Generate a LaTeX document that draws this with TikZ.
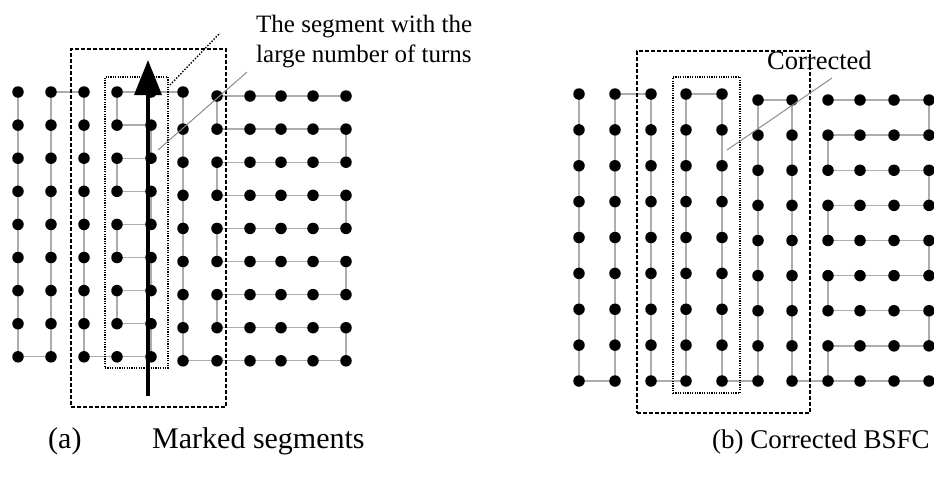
\documentclass[tikz,border=0pt]{standalone}
\usepackage{fontspec}
\setmainfont{Liberation Serif}
\usetikzlibrary{arrows.meta,backgrounds}

\tikzset{
  pt/.style={circle,fill=black,inner sep=0pt,minimum size=11.5pt},
  link/.style={draw=black!32,line width=1.3pt},
  dashbox/.style={draw=black,line width=1.5pt,dash pattern=on 4pt off 2pt},
  dotbox/.style={draw=black,line width=1.5pt,dash pattern=on 1.2pt off 1.2pt},
  leader/.style={draw=black!45,line width=1pt},
  caption/.style={anchor=base west,inner sep=0pt,font=\fontsize{30}{36}\selectfont},
  note/.style={anchor=base west,inner sep=0pt,font=\fontsize{25}{30}\selectfont},
}

\begin{document}
\begin{tikzpicture}[x=1pt,y=-1pt]
\useasboundingbox (0,0) rectangle (934,491);

% ---------- (a) marked segments ----------
\foreach \c/\x in {0/18,1/51,2/84,3/117,4/151}
  \foreach \r in {0,...,8}
    \node[pt] (A\c-\r) at (\x,{92+33.1*\r}) {};
\node[pt] (A5-0) at (183,92) {};
\foreach \r in {1,...,8}
  \node[pt] (A5-\r) at (183,{96+33.1*\r}) {};
\foreach \c/\x in {6/217,7/250,8/281,9/313,10/346}
  \foreach \r in {0,...,8}
    \node[pt] (A\c-\r) at (\x,{96+33.1*\r}) {};

\begin{scope}[on background layer]
\draw[link] (A0-0.center) -- (A0-8.center) -- (A1-8.center) -- (A1-0.center)
  -- (A2-0.center) -- (A2-8.center) -- (A3-8.center) -- (A4-8.center)
  -- (A4-7.center) -- (A3-7.center) -- (A3-6.center) -- (A4-6.center)
  -- (A4-5.center) -- (A3-5.center) -- (A3-4.center) -- (A4-4.center)
  -- (A4-3.center) -- (A3-3.center) -- (A3-2.center) -- (A4-2.center)
  -- (A4-1.center) -- (A3-1.center) -- (A3-0.center) -- (A4-0.center)
  -- (A5-0.center) -- (A5-8.center) -- (A6-8.center) -- (A10-8.center)
  -- (A10-7.center) -- (A6-7.center) -- (A6-6.center) -- (A10-6.center)
  -- (A10-5.center) -- (A6-5.center) -- (A6-4.center) -- (A10-4.center)
  -- (A10-3.center) -- (A6-3.center) -- (A6-2.center) -- (A10-2.center)
  -- (A10-1.center) -- (A6-1.center) -- (A6-0.center) -- (A10-0.center);
\end{scope}

\node[dashbox,minimum width=155pt,minimum height=358pt,inner sep=0pt] (Aouter) at (148.5,228) {};
\node[dotbox,minimum width=63pt,minimum height=291pt,inner sep=0pt] (Ainner) at (136.5,222.5) {};

\coordinate (arrowtail) at (148,396);
\coordinate (arrowtip) at (148,60);
\draw[line width=3.5pt,-{Triangle[length=35pt,width=27pt]}] (arrowtail) -- (arrowtip);

\coordinate (calloutfoot) at (170,85);
\coordinate (callouthead) at (220,33);
\draw[black,line width=1.4pt,dash pattern=on 1.4pt off 1.6pt] (calloutfoot) -- (callouthead);
\coordinate (Aleadfoot) at (158,150);
\coordinate (Aleadhead) at (247,72);
\draw[leader] (Aleadfoot) -- (Aleadhead);

\node[note] (segline1) at (256,32) {The segment with the};
\node[note] (segline2) at (256,62) {large number of turns};

\node[caption] (capa) at (48,448) {(a)};
\node[caption] (capatext) at (152,448) {Marked segments};

% ---------- (b) corrected BSFC ----------
\foreach \c/\x in {0/579,1/615,2/651,3/686,4/722}
  \foreach \r in {0,...,8}
    \node[pt] (B\c-\r) at (\x,{94+35.875*\r}) {};
\foreach \c/\x in {5/758,6/792,7/828,8/860,9/894,10/929}
  \foreach \r in {0,...,8}
    \node[pt] (B\c-\r) at (\x,{100+35.125*\r}) {};

\begin{scope}[on background layer]
\draw[link] (B0-0.center) -- (B0-8.center) -- (B1-8.center) -- (B1-0.center)
  -- (B2-0.center) -- (B2-8.center) -- (B3-8.center) -- (B3-0.center)
  -- (B4-0.center) -- (B4-8.center) -- (B5-8.center) -- (B5-0.center)
  -- (B6-0.center) -- (B6-8.center) -- (B7-8.center) -- (B7-7.center)
  -- (B10-7.center) -- (B10-6.center) -- (B7-6.center) -- (B7-5.center)
  -- (B10-5.center) -- (B10-4.center) -- (B7-4.center) -- (B7-3.center)
  -- (B10-3.center) -- (B10-2.center) -- (B7-2.center) -- (B7-1.center)
  -- (B10-1.center) -- (B10-0.center) -- (B7-0.center);
\draw[link] (B7-8.center) -- (B10-8.center);
\end{scope}

\node[dashbox,minimum width=173pt,minimum height=362pt,inner sep=0pt] (Bouter) at (723.5,232) {};
\node[dotbox,minimum width=67pt,minimum height=316pt,inner sep=0pt] (Binner) at (706.5,235) {};

\coordinate (Bleadfoot) at (727,150);
\coordinate (Bleadhead) at (832,78);
\draw[leader] (Bleadfoot) -- (Bleadhead);
\node[note,font=\fontsize{26.5}{30}\selectfont] (fixnote) at (767,69) {Corrected};

\node[caption,font=\fontsize{27}{32}\selectfont] (capb) at (712,448) {(b) Corrected BSFC};
\end{tikzpicture}
\end{document}
